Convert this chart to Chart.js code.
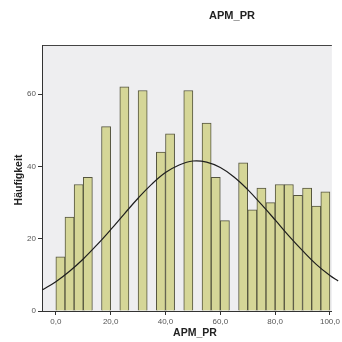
<!DOCTYPE html>
<html>
<head>
<meta charset="utf-8">
<script src="https://cdn.jsdelivr.net/npm/chart.js@4/dist/chart.umd.min.js"></script>
<style>
  html, body { margin: 0; padding: 0; background: #fff; }
  #wrap { width: 342px; height: 342px; }
</style>
</head>
<body>
<div id="wrap"><canvas id="chart" width="342" height="342"></canvas></div>
<script>
// histogram bins (midpoints), bin width 100/30
const binMids = [1.67, 5, 8.33, 11.67, 15, 18.33, 21.67, 25, 28.33, 31.67,
  35, 38.33, 41.67, 45, 48.33, 51.67, 55, 58.33, 61.67, 65,
  68.33, 71.67, 75, 78.33, 81.67, 85, 88.33, 91.67, 95, 98.33];
const counts = [15, 26, 35, 37, 0, 51, 0, 62, 0, 61,
  0, 44, 49, 0, 61, 0, 52, 37, 25, 0,
  41, 28, 34, 30, 35, 35, 32, 34, 29, 33];

// normal curve
const curveX = [-5, 0, 5, 10, 15, 20, 25, 30, 35, 40, 45, 50, 55, 60, 65, 70, 75, 80, 85, 90, 95, 100, 103];
const curveY = [5.8, 8.1, 11.0, 14.4, 18.3, 22.5, 26.9, 31.2, 35.1, 38.3, 40.4, 41.5, 41.2, 39.7, 37.1, 33.6, 29.5, 25.2, 20.8, 16.7, 12.9, 9.8, 8.3];

const xTicks = [0, 20, 40, 60, 80, 100];
const xTickLabels = ['0,0', '20,0', '40,0', '60,0', '80,0', '100,0'];
const yTicks = [0, 20, 40, 60];

const title = 'APM_PR';
const xTitle = 'APM_PR';
const yTitle = 'Häufigkeit';

const frame = {
  id: 'frame',
  beforeDraw(chart) {
    const { ctx, chartArea: a } = chart;
    ctx.save();
    ctx.fillStyle = '#eeeef0';
    ctx.fillRect(a.left, a.top, a.right - a.left, a.bottom - a.top);
    ctx.strokeStyle = '#444';
    ctx.lineWidth = 1;
    ctx.beginPath();
    ctx.moveTo(a.left, a.top + 0.5);
    ctx.lineTo(a.right, a.top + 0.5);
    ctx.stroke();
    ctx.restore();
  },
  afterDraw(chart) {
    const { ctx } = chart;
    ctx.save();
    ctx.fillStyle = '#222';
    ctx.textAlign = 'center';
    ctx.textBaseline = 'middle';
    ctx.font = 'bold 11px "Liberation Sans", Arial, sans-serif';
    ctx.fillText(title, 232, 16);
    ctx.font = 'bold 10.5px "Liberation Sans", Arial, sans-serif';
    ctx.fillText(xTitle, 195, 333);
    ctx.translate(19, 180);
    ctx.rotate(-Math.PI / 2);
    ctx.fillText(yTitle, 0, 0);
    ctx.restore();
  }
};

new Chart(document.getElementById('chart'), {
  data: {
    datasets: [
      {
        type: 'line',
        data: curveX.map((x, i) => ({ x: x, y: curveY[i] })),
        borderColor: '#1e1e1e',
        borderWidth: 1.2,
        pointRadius: 0,
        tension: 0.4,
        fill: false,
        clip: false,
        order: 0
      },
      {
        type: 'bar',
        data: binMids.map((x, i) => ({ x: x, y: counts[i] })),
        backgroundColor: '#d5d697',
        borderColor: '#55553f',
        borderWidth: 1,
        barPercentage: 1,
        categoryPercentage: 1,
        order: 1
      }
    ]
  },
  options: {
    responsive: false,
    animation: false,
    layout: { padding: { top: 45, right: 6, left: 0, bottom: 0 } },
    plugins: {
      legend: { display: false },
      tooltip: { enabled: false },
      title: { display: false }
    },
    scales: {
      x: {
        type: 'linear',
        offset: false,
        min: -5.05,
        max: 100.7,
        afterBuildTicks: s => { s.ticks = xTicks.map(v => ({ value: v })); },
        afterFit: s => { s.height = 31; },
        ticks: {
          callback: (v) => xTickLabels[xTicks.indexOf(v)],
          color: '#555',
          font: { size: 8, family: '"Liberation Sans", Arial, sans-serif' },
          padding: 2,
          maxRotation: 0
        },
        grid: { offset: false, drawOnChartArea: false, drawTicks: true, tickLength: 4, color: '#333' },
        border: { display: true, color: '#333' }
      },
      y: {
        min: 0,
        max: 73.6,
        afterBuildTicks: s => { s.ticks = yTicks.map(v => ({ value: v })); },
        afterFit: s => { s.width = 42; },
        ticks: {
          color: '#555',
          font: { size: 8, family: '"Liberation Sans", Arial, sans-serif' },
          padding: 2
        },
        grid: { drawOnChartArea: false, drawTicks: true, tickLength: 4, color: '#333' },
        border: { display: true, color: '#333' }
      }
    }
  },
  plugins: [frame]
});
</script>
</body>
</html>
